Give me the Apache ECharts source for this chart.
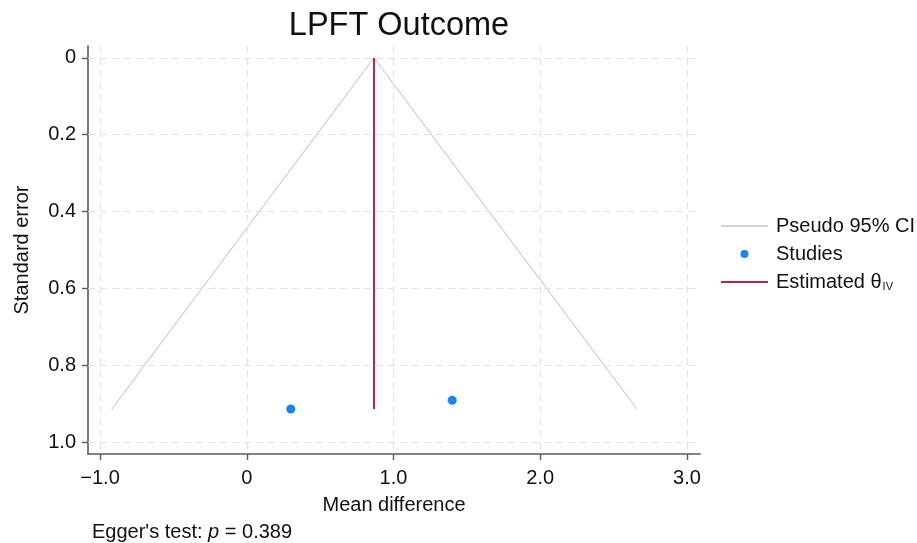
<!DOCTYPE html>
<html>
<head>
<meta charset="utf-8">
<script src="https://cdn.jsdelivr.net/npm/echarts@6/dist/echarts.min.js"></script>
<style>
  html, body { margin: 0; padding: 0; background: #fff; }
  #chart { width: 917px; height: 543px; }
</style>
</head>
<body>
<div id="chart"></div>
<script>
// Funnel plot data
const studyMD = [0.30, 1.40];
const studySE = [0.914, 0.891];
const funnelMD = [-0.92, 0.867, 2.66];
const funnelSE = [0.914, 0, 0.914];
const estimateMD = [0.867, 0.867];
const estimateSE = [0, 0.914];
const xTicks = [-1, 0, 1, 2, 3];
const yTicks = [0, 0.2, 0.4, 0.6, 0.8, 1.0];

const FONT = '"Liberation Sans", Arial, Helvetica, sans-serif';
const axisColor = '#595959';
const gridColor = '#e3e3e3';

const chart = echarts.init(document.getElementById('chart'));

const fmtX = v => v === 0 ? '0' : (v < 0 ? '\u2212' + Math.abs(v).toFixed(1) : v.toFixed(1));
const fmtY = v => v === 0 ? '0' : v.toFixed(1);

const option = {
  animation: false,
  backgroundColor: '#fff',
  textStyle: { fontFamily: FONT },
  title: {
    text: 'LPFT Outcome',
    left: 394,
    textAlign: 'center',
    top: 5,
    textStyle: { fontSize: 32.5, fontWeight: 'normal', color: '#111', fontFamily: FONT }
  },
  grid: { left: 88, right: 217, top: 46, bottom: 89, outerBoundsMode: 'none' },
  xAxis: {
    type: 'value',
    min: -1.082,
    max: 3.089,
    name: 'Mean difference',
    nameLocation: 'middle',
    nameGap: 41,
    nameTextStyle: { fontSize: 20, color: '#111', fontFamily: FONT },
    axisLine: { show: true, onZero: false, lineStyle: { color: axisColor, width: 1.6 } },
    axisTick: { show: true, customValues: xTicks, length: 6, lineStyle: { color: axisColor, width: 1.4 } },
    axisLabel: { customValues: xTicks, formatter: fmtX, fontSize: 20, color: '#111', margin: 14, fontFamily: FONT },
    splitLine: { show: false }
  },
  yAxis: {
    type: 'value',
    inverse: true,
    min: -0.031,
    max: 1.031,
    name: 'Standard error',
    nameLocation: 'middle',
    nameGap: 56,
    nameRotate: 90,
    nameTextStyle: { fontSize: 20, color: '#111', fontFamily: FONT },
    axisLine: { show: true, onZero: false, lineStyle: { color: axisColor, width: 1.6 } },
    axisTick: { show: true, customValues: yTicks, length: 6, lineStyle: { color: axisColor, width: 1.4 } },
    axisLabel: { customValues: yTicks, formatter: fmtY, fontSize: 20, color: '#111', margin: 12, fontFamily: FONT },
    splitLine: { show: false }
  },
  legend: {
    orient: 'vertical',
    left: 715,
    top: 211,
    itemWidth: 47,
    itemHeight: 8,
    itemGap: 8,
    data: [
      { name: 'Pseudo 95% CI', itemStyle: { opacity: 0 } },
      { name: 'Studies' },
      { name: 'Estimated θ', itemStyle: { opacity: 0 } }
    ],
    textStyle: {
      fontSize: 20, color: '#111', fontFamily: FONT, padding: [0, 0, 0, 3],
      rich: {
        a: { fontSize: 20, color: '#111', fontFamily: FONT },
        sub: { fontSize: 11, color: '#111', fontFamily: FONT, padding: [9, 0, 0, 1] }
      }
    },
    formatter: name => name === 'Estimated θ' ? '{a|Estimated θ}{sub|IV}' : name
  },
  graphic: [{
    type: 'text',
    left: 92,
    top: 522,
    style: {
      text: "{a|Egger's test: }{i|p}{a| = 0.389}",
      rich: {
        a: { fontSize: 20, fill: '#111', fontFamily: FONT },
        i: { fontSize: 20, fill: '#111', fontFamily: FONT, fontStyle: 'italic' }
      }
    }
  }],
  series: [
    {
      name: 'grid',
      type: 'line',
      data: [],
      silent: true,
      markLine: {
        silent: true,
        symbol: 'none',
        label: { show: false },
        lineStyle: { color: gridColor, type: [7, 5], width: 1.2 },
        data: xTicks.map(v => ({ xAxis: v })).concat(yTicks.map(v => ({ yAxis: v })))
      }
    },
    {
      name: 'Pseudo 95% CI',
      type: 'line',
      symbol: 'none',
      data: funnelMD.map((x, i) => [x, funnelSE[i]]),
      lineStyle: { color: '#d2d2d2', width: 1.2 },
      itemStyle: { color: '#d2d2d2' }
    },
    {
      name: 'Estimated θ',
      type: 'line',
      symbol: 'none',
      data: estimateMD.map((x, i) => [x, estimateSE[i]]),
      lineStyle: { color: '#b8234f', width: 2 },
      itemStyle: { color: '#b8234f' }
    },
    {
      name: 'Studies',
      type: 'scatter',
      symbol: 'circle',
      symbolSize: 9,
      data: studyMD.map((x, i) => [x, studySE[i]]),
      itemStyle: { color: '#1a84f2', opacity: 1 },
      z: 5
    }
  ]
};

chart.setOption(option);
</script>
</body>
</html>
